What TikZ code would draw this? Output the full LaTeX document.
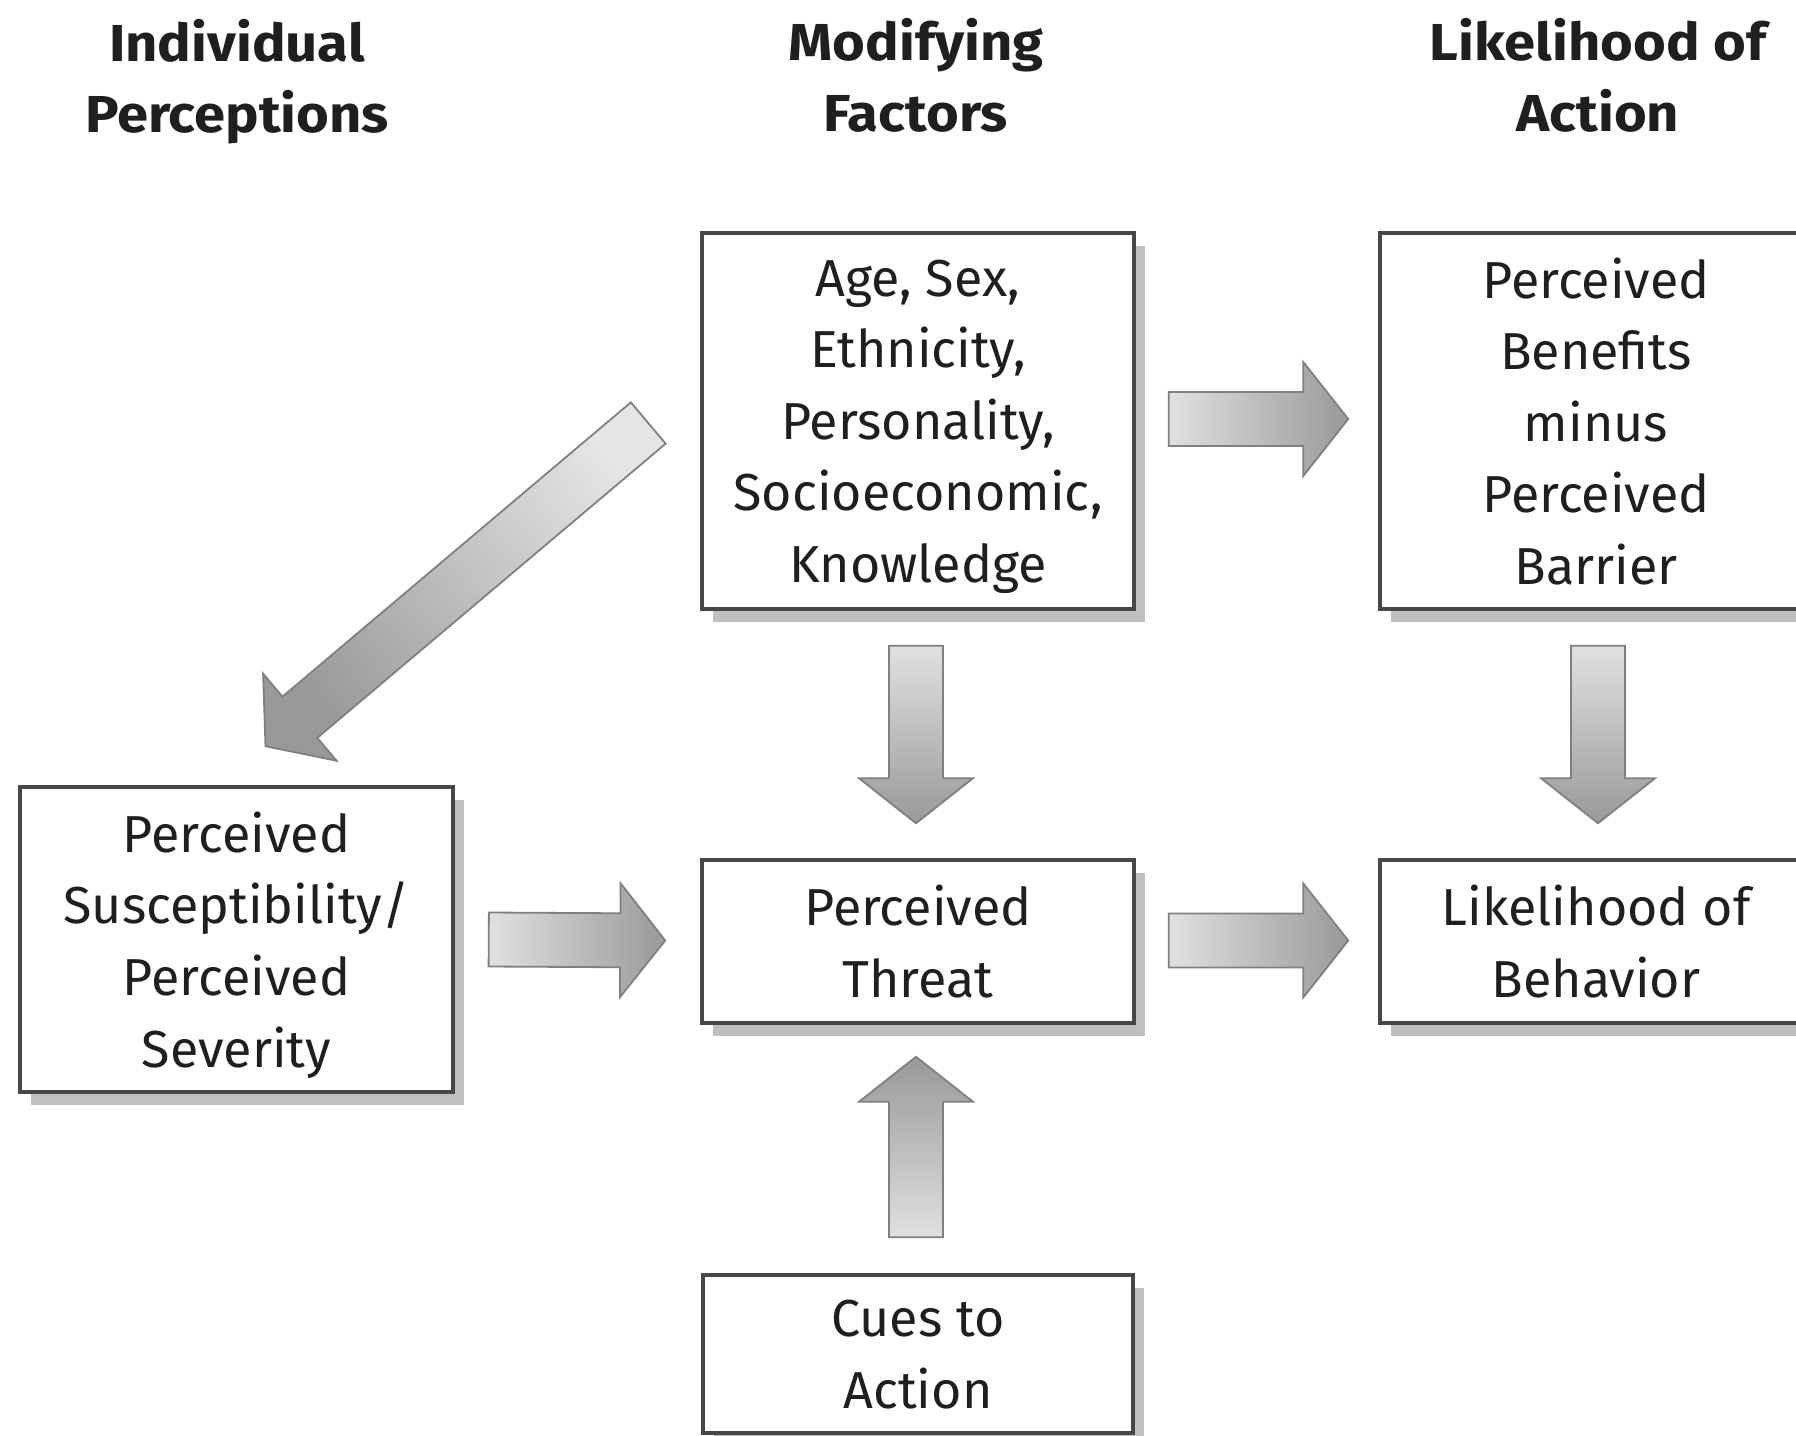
\documentclass[tikz,border=0pt]{standalone}
\usepackage{fontspec}
\setmainfont{Fira Sans}[BoldFeatures={FakeStretch=1.08}]
\usetikzlibrary{calc,shadows}

\newcommand{\blockarrow}[3][]{%
  \coordinate (hb) at ($(#3)!45pt!(#2)$);
  \shade[bigarrow,#1] ($(#2)!27pt!90:(#3)$) -- ($(hb)!27pt!90:(#3)$) -- ($(hb)!57pt!90:(#3)$) -- (#3)
    -- ($(hb)!57pt!-90:(#3)$) -- ($(hb)!27pt!-90:(#3)$) -- ($(#2)!27pt!-90:(#3)$) -- cycle;}

\begin{document}
\begin{tikzpicture}[x=1pt, y=-1pt,
  box/.style={rectangle, draw=black!72, line width=3.5pt, fill=white, align=center, inner sep=0pt,
    text=black!88, font=\fontsize{52}{71.6}\selectfont, text depth=0pt,
    drop shadow={shadow xshift=11pt, shadow yshift=-13pt, fill=black!25, opacity=1}},
  head/.style={align=center, text=black!88, font=\fontsize{52}{71}\selectfont\bfseries},
  bigarrow/.style={draw=black!50, line width=1.8pt, line join=miter}]

\useasboundingbox (0,0) rectangle (1796,1435);
\clip (0,0) rectangle (1796,1435);

\node[head] at (237,82) (h0) {Individual\\Perceptions};
\node[head] at (916,75) (h1) {Modifying\\Factors};
\node[head] at (1598,75) (h2) {Likelihood of\\Action};

\node[box, minimum width=432, minimum height=376] at (918,421) (factors) {Age, Sex,\\Ethnicity,\\Personality,\\Socioeconomic,\\Knowledge};
\node[box, minimum width=432, minimum height=376] at (1596,421) (benefits) {Perceived\\Benefits\\minus\\Perceived\\Barrier};
\node[box, minimum width=433, minimum height=305] at (236.5,939.5) (suscept) {Perceived\\Susceptibility/\\Perceived\\Severity};
\node[box, minimum width=432, minimum height=163] at (918,941.5) (threat) {Perceived\\Threat};
\node[box, minimum width=432, minimum height=163] at (1596,941.5) (likely) {Likelihood of\\Behavior};
\node[box, minimum width=430, minimum height=158] at (918,1354) (cues) {Cues to\\Action};

\coordinate (a0) at ($(factors.west)+(-52,2)$);
\coordinate (b0) at ($(suscept.north)+(29,-39)$);
\coordinate (a1) at ($(factors.east)+(33,-2)$);
\coordinate (b1) at ($(benefits.west)+(-30,-2)$);
\coordinate (a2) at ($(suscept.east)+(34,0)$);
\coordinate (b2) at ($(threat.west)+(-35,-1)$);
\coordinate (a3) at ($(threat.east)+(33,-1)$);
\coordinate (b3) at ($(likely.west)+(-30,-1)$);
\coordinate (a4) at ($(factors.south)+(-2,35)$);
\coordinate (b4) at ($(threat.north)+(-2,-35)$);
\coordinate (a5) at ($(benefits.south)+(2,35)$);
\coordinate (b5) at ($(likely.north)+(2,-35)$);
\coordinate (a6) at ($(cues.north)+(-2,-36)$);
\coordinate (b6) at ($(threat.south)+(-2,32)$);

\blockarrow[top color=black!10, bottom color=black!40, shading angle=-50]{a0}{b0}
\blockarrow[left color=black!12, right color=black!40]{a1}{b1}
\blockarrow[left color=black!12, right color=black!40]{a2}{b2}
\blockarrow[left color=black!12, right color=black!40]{a3}{b3}
\blockarrow[top color=black!12, bottom color=black!40]{a4}{b4}
\blockarrow[top color=black!12, bottom color=black!40]{a5}{b5}
\blockarrow[top color=black!40, bottom color=black!12]{a6}{b6}

\end{tikzpicture}
\end{document}
